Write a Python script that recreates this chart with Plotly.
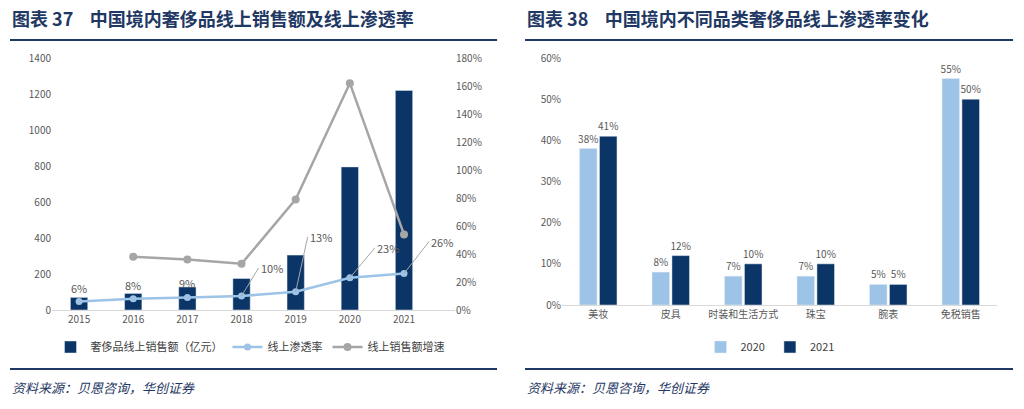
import plotly.graph_objects as go

years = ["2015", "2016", "2017", "2018", "2019", "2020", "2021"]
online_sales = [70, 92, 128, 175, 305, 795, 1220]
penetration = [6, 8, 9, 10, 13, 23, 26]
growth_years = ["2016", "2017", "2018", "2019", "2020", "2021"]
growth = [38, 36, 33, 79, 162, 54]

categories = ["美妆", "皮具", "时装和生活方式", "珠宝", "腕表", "免税销售"]
pen_2020 = [38, 8, 7, 7, 5, 55]
pen_2021 = [41, 12, 10, 10, 5, 50]

NAVY = "#0b3566"
LIGHT = "#9dc3e6"
GREY = "#a6a6a6"
TITLE = "#1f3864"
FONT = "Noto Sans CJK SC"

fig = go.Figure()
fig.add_trace(go.Bar(x=years, y=online_sales, name="奢侈品线上销售额（亿元）", marker_color=NAVY,
                     width=0.32, xaxis="x", yaxis="y", legend="legend"))
fig.add_trace(go.Scatter(x=years, y=penetration, name="线上渗透率", mode="lines+markers",
                         line=dict(color=LIGHT, width=2.5), marker=dict(size=7),
                         xaxis="x", yaxis="y2", legend="legend"))
fig.add_trace(go.Scatter(x=growth_years, y=growth, name="线上销售额增速", mode="lines+markers",
                         line=dict(color=GREY, width=2.5), marker=dict(size=8),
                         xaxis="x", yaxis="y2", legend="legend"))
fig.add_trace(go.Bar(x=categories, y=pen_2020, name="2020", marker_color=LIGHT,
                     text=[f"{v}%" for v in pen_2020], textposition="outside",
                     xaxis="x3", yaxis="y3", legend="legend2"))
fig.add_trace(go.Bar(x=categories, y=pen_2021, name="2021", marker_color=NAVY,
                     text=[f"{v}%" for v in pen_2021], textposition="outside",
                     xaxis="x3", yaxis="y3", legend="legend2"))

# penetration labels (pixel offsets from the point); x given as category index
offsets = [(0, -14, False), (0, -14, False), (0, -14, False), (17, -28, True),
           (12, -55, True), (25, -30, True), (25, -32, True)]
annotations = []
for i, (v, (ax, ay, arrow)) in enumerate(zip(penetration, offsets)):
    annotations.append(dict(x=i, y=v, xref="x", yref="y2", text=f"{v}%", showarrow=True,
                            arrowhead=0, arrowwidth=1, arrowcolor=GREY if arrow else "rgba(0,0,0,0)",
                            ax=ax, ay=ay, xanchor="left" if arrow else "center",
                            font=dict(size=11, color="#595959")))

annotations += [
    dict(x=10 / 1024, y=1 - 18 / 409, xref="paper", yref="paper", showarrow=False,
         xanchor="left", yanchor="middle",
         text="<b>图表 37    中国境内奢侈品线上销售额及线上渗透率</b>", font=dict(size=18, color=TITLE)),
    dict(x=525 / 1024, y=1 - 18 / 409, xref="paper", yref="paper", showarrow=False,
         xanchor="left", yanchor="middle",
         text="<b>图表 38    中国境内不同品类奢侈品线上渗透率变化</b>", font=dict(size=18, color=TITLE)),
    dict(x=10 / 1024, y=1 - 387 / 409, xref="paper", yref="paper", showarrow=False,
         xanchor="left", yanchor="middle",
         text="<i>资料来源：贝恩咨询，华创证券</i>", font=dict(size=13, color=TITLE)),
    dict(x=525 / 1024, y=1 - 387 / 409, xref="paper", yref="paper", showarrow=False,
         xanchor="left", yanchor="middle",
         text="<i>资料来源：贝恩咨询，华创证券</i>", font=dict(size=13, color=TITLE)),
]

shapes = []
for x0, x1 in [(10, 497), (525, 1013)]:
    for y in (40, 369):
        shapes.append(dict(type="line", xref="paper", yref="paper", x0=x0 / 1024, x1=x1 / 1024,
                           y0=1 - y / 409, y1=1 - y / 409, layer="above",
                           line=dict(color=TITLE, width=2)))

tick_font = dict(size=10, color="#595959")
fig.update_layout(
    width=1024, height=409, autosize=False, margin=dict(l=0, r=0, t=0, b=0, pad=0),
    paper_bgcolor="white", plot_bgcolor="white",
    font=dict(family=FONT, color="#595959"),
    barmode="group", bargap=0.45, bargroupgap=0.12,
    xaxis=dict(domain=[52 / 1024, 455 / 1024], anchor="y", type="category", tickfont=tick_font,
               showline=True, linecolor="#d9d9d9", ticks="", automargin=False),
    yaxis=dict(domain=[1 - 310 / 409, 1 - 58 / 409], anchor="x", range=[0, 1400], dtick=200,
               showgrid=False, tickfont=tick_font, zeroline=False, automargin=False),
    yaxis2=dict(overlaying="y", anchor="x", side="right", range=[0, 180], dtick=20, ticksuffix="%",
                showgrid=False, tickfont=tick_font, zeroline=False, automargin=False),
    xaxis3=dict(domain=[562 / 1024, 997 / 1024], anchor="y3", type="category", tickfont=tick_font,
                showline=True, linecolor="#d9d9d9", ticks="", automargin=False),
    yaxis3=dict(domain=[1 - 305 / 409, 1 - 58 / 409], anchor="x3", range=[0, 60], dtick=10, ticksuffix="%",
                showgrid=False, tickfont=tick_font, zeroline=False, automargin=False),
    legend=dict(orientation="h", x=250 / 1024, y=1 - 347 / 409, xanchor="center", yanchor="middle",
                font=dict(size=11, color="#404040")),
    legend2=dict(orientation="h", x=770 / 1024, y=1 - 347 / 409, xanchor="center", yanchor="middle",
                 font=dict(size=11, color="#404040")),
    annotations=annotations, shapes=shapes,
)
fig.update_traces(textfont=dict(size=10, color="#595959"), cliponaxis=False, constraintext="none",
                  selector=dict(type="bar"))

fig.write_html("out.html", config={"displayModeBar": False},
               post_script="document.body.style.margin='0';")
